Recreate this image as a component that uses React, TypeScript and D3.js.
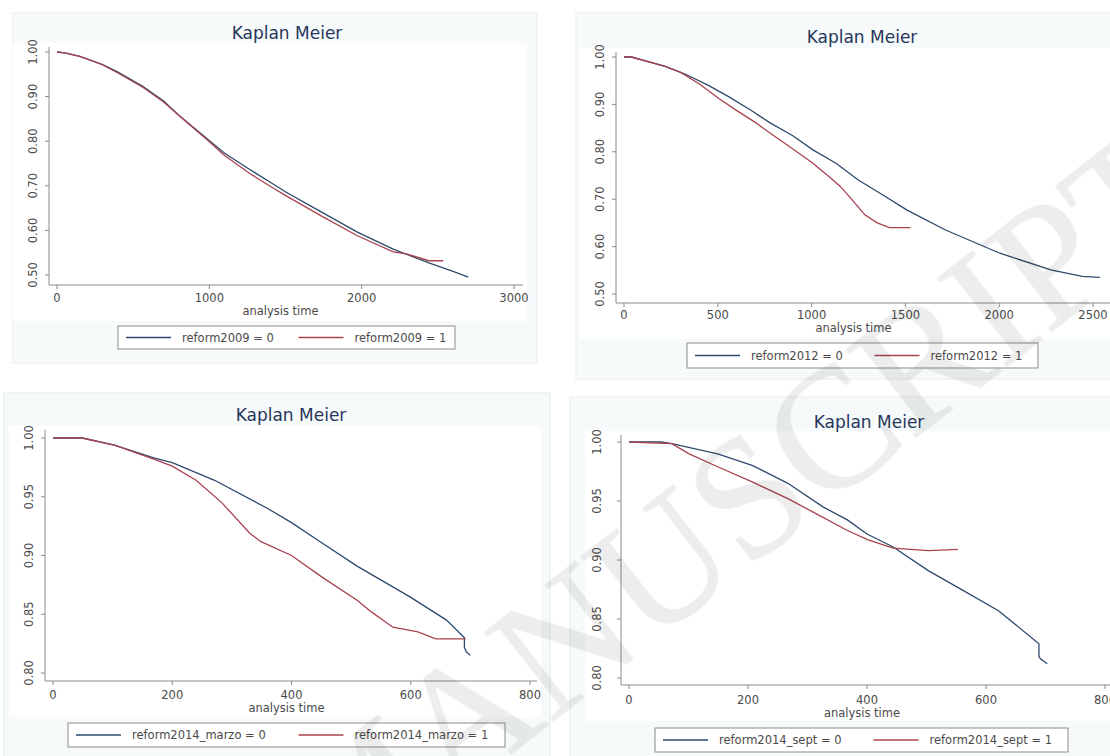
import * as d3 from 'd3';

// ---- data ----
const p1Time0 = [0, 50, 150, 300, 400, 563, 700, 798, 993, 1100, 1268, 1400, 1502, 1737, 1972, 2207, 2441, 2600, 2700];
const p1Surv0 = [1.0, 0.998, 0.99, 0.972, 0.955, 0.923, 0.89, 0.859, 0.803, 0.773, 0.736, 0.708, 0.686, 0.641, 0.596, 0.558, 0.527, 0.508, 0.495];
const p1Time1 = [0, 50, 150, 300, 400, 563, 700, 798, 993, 1100, 1268, 1400, 1502, 1737, 1972, 2207, 2300, 2441, 2535];
const p1Surv1 = [1.0, 0.998, 0.99, 0.971, 0.953, 0.921, 0.888, 0.858, 0.801, 0.768, 0.727, 0.699, 0.678, 0.632, 0.588, 0.552, 0.547, 0.532, 0.532];

const p2Time0 = [0, 40, 219, 331, 450, 555, 679, 779, 900, 1007, 1130, 1247, 1380, 1509, 1714, 2004, 2275, 2443, 2537];
const p2Surv0 = [1.0, 1.0, 0.98, 0.963, 0.94, 0.917, 0.887, 0.861, 0.834, 0.804, 0.776, 0.741, 0.709, 0.677, 0.635, 0.586, 0.551, 0.537, 0.535];
const p2Time1 = [0, 40, 219, 300, 406, 500, 593, 700, 780, 900, 1007, 1100, 1153, 1220, 1284, 1350, 1415, 1527];
const p2Surv1 = [1.0, 1.0, 0.98, 0.968, 0.942, 0.914, 0.889, 0.862, 0.839, 0.806, 0.776, 0.745, 0.727, 0.697, 0.667, 0.65, 0.64, 0.64];

const p3Time0 = [0, 49, 103, 169, 200, 271, 360, 400, 450, 510, 598, 660, 690, 690, 693, 700];
const p3Surv0 = [1.0, 1.0, 0.994, 0.983, 0.979, 0.964, 0.94, 0.928, 0.911, 0.891, 0.865, 0.845, 0.83, 0.822, 0.818, 0.815];
const p3Time1 = [0, 49, 103, 169, 200, 240, 283, 330, 348, 400, 450, 510, 534, 570, 612, 642, 684, 692];
const p3Surv1 = [1.0, 1.0, 0.994, 0.982, 0.976, 0.964, 0.945, 0.919, 0.912, 0.9, 0.882, 0.862, 0.852, 0.839, 0.835, 0.829, 0.829, 0.829];

const p4Time0 = [0, 54, 72, 149, 208, 267, 326, 367, 400, 444, 503, 562, 621, 689, 689, 692, 703];
const p4Surv0 = [1.0, 1.0, 0.9986, 0.99, 0.98, 0.965, 0.945, 0.934, 0.922, 0.911, 0.891, 0.874, 0.857, 0.829, 0.818, 0.816, 0.812];
const p4Time1 = [0, 72, 101, 149, 208, 267, 308, 367, 402, 444, 503, 553];
const p4Surv1 = [1.0, 0.9986, 0.99, 0.979, 0.966, 0.952, 0.941, 0.925, 0.917, 0.91, 0.908, 0.909];

const p1XTicks = [0, 1000, 2000, 3000];
const p2XTicks = [0, 500, 1000, 1500, 2000, 2500];
const p34XTicks = [0, 200, 400, 600, 800];
const p12YTicks = [0.5, 0.6, 0.7, 0.8, 0.9, 1.0];
const p34YTicks = [0.8, 0.85, 0.9, 0.95, 1.0];

const p1Labels = ['reform2009 = 0', 'reform2009 = 1'];
const p2Labels = ['reform2012 = 0', 'reform2012 = 1'];
const p3Labels = ['reform2014_marzo = 0', 'reform2014_marzo = 1'];
const p4Labels = ['reform2014_sept = 0', 'reform2014_sept = 1'];

const FONT = "'DejaVu Sans', sans-serif";
const BLUE = '#2e4a6b';
const RED = '#a8434f';
const INK = '#4a4a4a';

// layout of each graph (pixels)
const layouts = [
  { frame: [13, 13, 524, 350], xDomain: [0, 3000], xRange: [57, 514], yDomain: [0.5, 1], yRange: [275, 52],
    axisX: 285, axisXEnd: 523, axisY: 49, axisYTop: 47, title: [287, 33], tickY: 302, axisTitleY: 315, yLabX: 37,
    legend: [118, 326, 455, 349] },
  { frame: [576, 13, 560, 366], xDomain: [0, 2500], xRange: [624, 1093], yDomain: [0.5, 1], yRange: [294, 57],
    axisX: 303, axisXEnd: 1110, axisY: 616, axisYTop: 52, title: [862, 37], tickY: 319, axisTitleY: 332, yLabX: 604,
    legend: [687, 343, 1038, 368] },
  { frame: [4, 393, 546, 380], xDomain: [0, 800], xRange: [53, 530], yDomain: [0.8, 1], yRange: [673, 438],
    axisX: 681, axisXEnd: 537, axisY: 45, axisYTop: 430, title: [291, 415], tickY: 699, axisTitleY: 712, yLabX: 33,
    legend: [68, 723, 505, 747] },
  { frame: [570, 397, 560, 380], xDomain: [0, 800], xRange: [629, 1105], yDomain: [0.8, 1], yRange: [678, 442],
    axisX: 685, axisXEnd: 1110, axisY: 621, axisYTop: 435, title: [869, 422], tickY: 704, axisTitleY: 717, yLabX: 601,
    legend: [655, 728, 1068, 752] },
];

type PanelProps = {
  lay: any;
  t0: number[]; s0: number[]; t1: number[]; s1: number[];
  xTicks: number[]; yTicks: number[]; labels: string[];
};

function Panel({ lay, t0, s0, t1, s1, xTicks, yTicks, labels }: PanelProps) {
  const x = d3.scaleLinear().domain(lay.xDomain).range(lay.xRange);
  const y = d3.scaleLinear().domain(lay.yDomain).range(lay.yRange);
  const path = (t: number[], s: number[]) =>
    d3.line<[number, number]>().x((d) => x(d[0])).y((d) => y(d[1]))(t.map((v, i) => [v, s[i]] as [number, number]));
  const yFmt = d3.format('.2f');
  const [fx, fy, fw, fh] = lay.frame;
  const [lx0, ly0, lx1, ly1] = lay.legend;
  const lw = lx1 - lx0;
  const lmid = (ly0 + ly1) / 2;
  const items = [
    { color: BLUE, label: labels[0], sx: lx0 + 8 },
    { color: RED, label: labels[1], sx: lx0 + lw / 2 + 12 },
  ];
  return (
    <g>
      <rect x={fx} y={fy} width={fw} height={fh} fill="#f7fafb" stroke="#e6ebed" />
      <rect x={lay.axisY - 36} y={lay.axisYTop - 4} width={lay.axisXEnd - lay.axisY + 40} height={lay.axisX - lay.axisYTop + 40} fill="#ffffff" />
      <text x={lay.title[0]} y={lay.title[1] + 6} textAnchor="middle" fontFamily={FONT} fontSize={17} fill="#26365a">
        Kaplan Meier
      </text>
      {/* axes */}
      <line x1={lay.axisY} x2={lay.axisY} y1={lay.axisYTop} y2={lay.axisX} stroke="#8a8a8a" />
      <line x1={lay.axisY} x2={lay.axisXEnd} y1={lay.axisX} y2={lay.axisX} stroke="#8a8a8a" />
      {yTicks.map((v) => (
        <g key={'y' + v}>
          <line x1={lay.axisY - 4} x2={lay.axisY} y1={y(v)} y2={y(v)} stroke="#8a8a8a" />
          <text transform={`translate(${lay.yLabX},${y(v)}) rotate(-90)`} textAnchor="middle"
            fontFamily={FONT} fontSize={11.5} fill={INK}>{yFmt(v)}</text>
        </g>
      ))}
      {xTicks.map((v) => (
        <g key={'x' + v}>
          <line x1={x(v)} x2={x(v)} y1={lay.axisX} y2={lay.axisX + 4} stroke="#8a8a8a" />
          <text x={x(v)} y={lay.tickY} textAnchor="middle" fontFamily={FONT} fontSize={11.5} fill={INK}>{v}</text>
        </g>
      ))}
      <text x={(lay.xRange[0] + lay.xRange[1]) / 2 - 5} y={lay.axisTitleY} textAnchor="middle" fontFamily={FONT} fontSize={11.5} fill={INK}>
        analysis time
      </text>
      {/* curves */}
      <path d={path(t0, s0) ?? ''} fill="none" stroke={BLUE} strokeWidth={1.3} />
      <path d={path(t1, s1) ?? ''} fill="none" stroke={RED} strokeWidth={1.3} />
      {/* legend */}
      <rect x={lx0} y={ly0} width={lw} height={ly1 - ly0} fill="#ffffff" stroke="#8c8c8c" />
      {items.map((it) => (
        <g key={it.label}>
          <line x1={it.sx} x2={it.sx + 45} y1={lmid} y2={lmid} stroke={it.color} strokeWidth={1.3} />
          <text x={it.sx + 56} y={lmid + 4} fontFamily={FONT} fontSize={11.5} fill={INK}>{it.label}</text>
        </g>
      ))}
    </g>
  );
}

export default function App() {
  return (
    <div style={{ position: 'fixed', left: 0, top: 0 }}>
      <svg width={1110} height={756} style={{ display: 'block', background: '#ffffff' }}>
        <Panel lay={layouts[0]} t0={p1Time0} s0={p1Surv0} t1={p1Time1} s1={p1Surv1}
          xTicks={p1XTicks} yTicks={p12YTicks} labels={p1Labels} />
        <Panel lay={layouts[1]} t0={p2Time0} s0={p2Surv0} t1={p2Time1} s1={p2Surv1}
          xTicks={p2XTicks} yTicks={p12YTicks} labels={p2Labels} />
        <Panel lay={layouts[2]} t0={p3Time0} s0={p3Surv0} t1={p3Time1} s1={p3Surv1}
          xTicks={p34XTicks} yTicks={p34YTicks} labels={p3Labels} />
        <Panel lay={layouts[3]} t0={p4Time0} s0={p4Surv0} t1={p4Time1} s1={p4Surv1}
          xTicks={p34XTicks} yTicks={p34YTicks} labels={p4Labels} />
        {/* watermark */}
        <text transform="translate(1205,212) rotate(-38)" textAnchor="end"
          fontFamily="'Liberation Serif', serif" fontSize={172} fill="#000000" opacity={0.065}
          stroke="#000000" strokeWidth={1.5} strokeOpacity={0.6}>
          ACCEPTED MANUSCRIPT
        </text>
      </svg>
    </div>
  );
}
